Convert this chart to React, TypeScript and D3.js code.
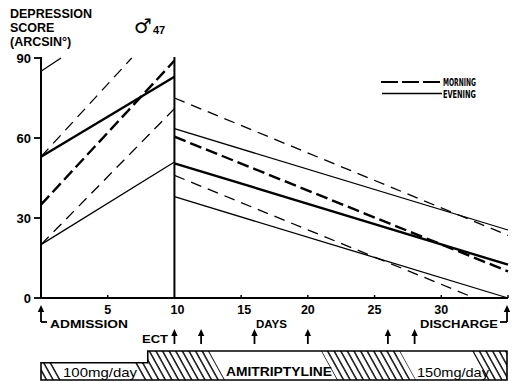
import React from "react";
import * as d3 from "d3";

// Depression score (arcsin degrees) against day of stay
const yTicks = [0, 30, 60, 90];
const xTickLabels = [5, 10, 15, 20, 25, 30];
const xTickMarks = [5, 15, 20, 25, 30, 35];

// before ECT (day 0 -> 10)
const morningThickPre = [[0, 35], [10, 89]];
const morningThinPreA = [[0, 53], [6.8, 90]];
const morningThinPreB = [[0, 20], [10, 71]];
const eveningThickPre = [[0, 53], [10, 83]];
const eveningThinPreA = [[0, 85], [1.5, 90]];
const eveningThinPreB = [[0, 20], [10, 51]];

// after ECT (day 10 -> discharge)
const morningThinPostA = [[10, 75], [35, 23.5]];
const morningThickPost = [[10, 60.5], [35, 10]];
const morningThinPostB = [[10, 46], [32.5, 0]];
const eveningThinPostA = [[10, 63.5], [35, 25.5]];
const eveningThickPost = [[10, 50.5], [35, 12.5]];
const eveningThinPostB = [[10, 38], [35, 0]];

const admissionDay = 0;
const ectDay = 10;
const dischargeDay = 35;
const treatmentArrowDays = [10, 12, 16, 20, 26, 28];
const doseStepDay = 8;
const doseLabels = ["100mg/day", "AMITRIPTYLINE", "150mg/day"];

const W = 512;
const H = 381;
const FONT = "'Liberation Sans', Arial, sans-serif";

export default function App() {
  const x = d3.scaleLinear().domain([0, 35]).range([41, 508]);
  const y = d3.scaleLinear().domain([0, 90]).range([298, 58]);
  const line = d3
    .line<number[]>()
    .x((d) => x(d[0]))
    .y((d) => y(d[1]));

  const thinDash = "11,7";
  const thickDash = "12,5";
  const series = [
    { pts: morningThickPre, w: 2.4, dash: thickDash },
    { pts: morningThinPreA, w: 1.3, dash: thinDash },
    { pts: morningThinPreB, w: 1.3, dash: thinDash },
    { pts: eveningThickPre, w: 2.4, dash: null },
    { pts: eveningThinPreA, w: 1.3, dash: null },
    { pts: eveningThinPreB, w: 1.3, dash: null },
    { pts: morningThinPostA, w: 1.3, dash: thinDash },
    { pts: morningThickPost, w: 2.4, dash: thickDash },
    { pts: morningThinPostB, w: 1.3, dash: thinDash },
    { pts: eveningThinPostA, w: 1.3, dash: null },
    { pts: eveningThickPost, w: 2.4, dash: null },
    { pts: eveningThinPostB, w: 1.3, dash: null },
  ];

  const y0 = y(0);
  const arrow = (cx: number, top: number, bottom: number, key: string) => (
    <g key={key}>
      <line x1={cx} x2={cx} y1={top + 4} y2={bottom} stroke="#000" strokeWidth={1.8} />
      <path d={`M${cx},${top} L${cx - 3.2},${top + 7} L${cx + 3.2},${top + 7} Z`} fill="#000" />
    </g>
  );

  // dosage bar
  const barTop = 351;
  const barLow = 362.7;
  const barBottom = 380;
  const barLeft = x(0);
  const barRight = x(dischargeDay) - 1;
  const stepX = x(doseStepDay);
  const slant = 0.55;
  const bandX = (xb: number, yy: number) => xb - slant * (barBottom - yy);
  const whiteBand = (l: number, r: number) =>
    `M${bandX(l, barTop - 2)},${barTop - 2} L${bandX(r, barTop - 2)},${barTop - 2} L${r},${barBottom} L${l},${barBottom} Z`;
  const outline = `M${barLeft},${barBottom} V${barLow} H${stepX} V${barTop} H${barRight} V${barBottom} Z`;

  return (
    <svg width={W} height={H} style={{ position: "absolute", left: 0, top: 0, background: "#fff" }}>
      <defs>
        <pattern id="hatch" patternUnits="userSpaceOnUse" width={6.6} height={40} patternTransform="skewX(29)">
          <line x1={1} x2={1} y1={0} y2={40} stroke="#000" strokeWidth={1.6} />
        </pattern>
        <clipPath id="barClip">
          <path d={outline} />
        </clipPath>
      </defs>

      {/* y label */}
      <g fontFamily={FONT} fontWeight="bold" fontSize={12.5} fill="#000">
        <text x={10} y={18}>DEPRESSION</text>
        <text x={10} y={32}>SCORE</text>
        <text x={10} y={46}>(ARCSIN°)</text>
      </g>
      <text x={134} y={33} fontFamily="'DejaVu Sans', sans-serif" fontSize={20} fill="#000">♂</text>
      <text x={153} y={34} fontFamily={FONT} fontWeight="bold" fontSize={11} fill="#000">47</text>

      {/* y axis */}
      <line x1={x(0)} x2={x(0)} y1={y(90) - 1} y2={y0} stroke="#000" strokeWidth={2} />
      {yTicks.map((t) => (
        <g key={t}>
          <line x1={x(0) - 7} x2={x(0)} y1={y(t)} y2={y(t)} stroke="#000" strokeWidth={1.8} />
          <text x={31} y={y(t) + 5} textAnchor="end" fontFamily={FONT} fontWeight="bold" fontSize={13}>
            {t}
          </text>
        </g>
      ))}

      {/* x axis */}
      <line x1={x(0)} x2={x(35)} y1={y0} y2={y0} stroke="#000" strokeWidth={2} />
      <line x1={x(ectDay)} x2={x(ectDay)} y1={y(90) - 1} y2={y0} stroke="#000" strokeWidth={2} />
      {xTickMarks.map((t) => (
        <line key={t} x1={x(t)} x2={x(t)} y1={y0} y2={y0 - 3} stroke="#000" strokeWidth={1.5} />
      ))}
      {xTickLabels.map((t) => (
        <text key={t} x={x(t) + (t === 10 || t === 15 ? 3 : 0)} y={314} textAnchor="middle" fontFamily={FONT} fontWeight="bold" fontSize={12.5}>
          {t}
        </text>
      ))}

      {/* lines */}
      {series.map((s, i) => (
        <path
          key={i}
          d={line(s.pts) || ""}
          fill="none"
          stroke="#000"
          strokeWidth={s.w}
          strokeDasharray={s.dash || undefined}
        />
      ))}

      {/* legend */}
      <line x1={381} x2={442} y1={82} y2={82} stroke="#000" strokeWidth={2.2} strokeDasharray="17,4" />
      <line x1={382} x2={442} y1={93.5} y2={93.5} stroke="#000" strokeWidth={1.5} />
      <g fontFamily="'DejaVu Sans Condensed', 'DejaVu Sans', sans-serif" fontWeight="bold" fontSize={10}>
        <text x={443} y={86} textLength={33} lengthAdjust="spacingAndGlyphs">MORNING</text>
        <text x={443} y={97.5} textLength={33} lengthAdjust="spacingAndGlyphs">EVENING</text>
      </g>

      {/* admission / discharge markers */}
      {arrow(x(admissionDay), 305, 322, "adm")}
      <line x1={x(admissionDay)} x2={x(admissionDay) + 6} y1={322} y2={322} stroke="#000" strokeWidth={1.8} />
      {arrow(x(dischargeDay) - 1, 305, 322, "dis")}
      <line x1={x(dischargeDay) - 8} x2={x(dischargeDay) - 1} y1={322} y2={322} stroke="#000" strokeWidth={1.8} />
      <g fontFamily={FONT} fontWeight="bold" fontSize={11.5}>
        <text x={50} y={328} textLength={78} lengthAdjust="spacingAndGlyphs">ADMISSION</text>
        <text x={256} y={328} textLength={31} lengthAdjust="spacingAndGlyphs">DAYS</text>
        <text x={420} y={328} textLength={78} lengthAdjust="spacingAndGlyphs">DISCHARGE</text>
        <text x={142} y={343} textLength={26} lengthAdjust="spacingAndGlyphs">ECT</text>
      </g>
      {treatmentArrowDays.map((d) => arrow(x(d), 329, 344, `t${d}`))}

      {/* dosage bar */}
      <g clipPath="url(#barClip)">
        <rect x={barLeft} y={barTop - 2} width={barRight - barLeft} height={barBottom - barTop + 2} fill="url(#hatch)" />
        <path d={whiteBand(64, 143)} fill="#fff" />
        <path d={whiteBand(225, 337)} fill="#fff" />
        <path d={whiteBand(416, 488)} fill="#fff" />
      </g>
      <path d={outline} fill="none" stroke="#000" strokeWidth={1.6} />
      <g fontFamily={FONT} fontSize={13}>
        <text x={63} y={377} textLength={74} lengthAdjust="spacingAndGlyphs">{doseLabels[0]}</text>
        <text x={226} y={376} fontWeight="bold" textLength={106} lengthAdjust="spacingAndGlyphs">{doseLabels[1]}</text>
        <text x={417} y={377} textLength={72} lengthAdjust="spacingAndGlyphs">{doseLabels[2]}</text>
      </g>
    </svg>
  );
}
